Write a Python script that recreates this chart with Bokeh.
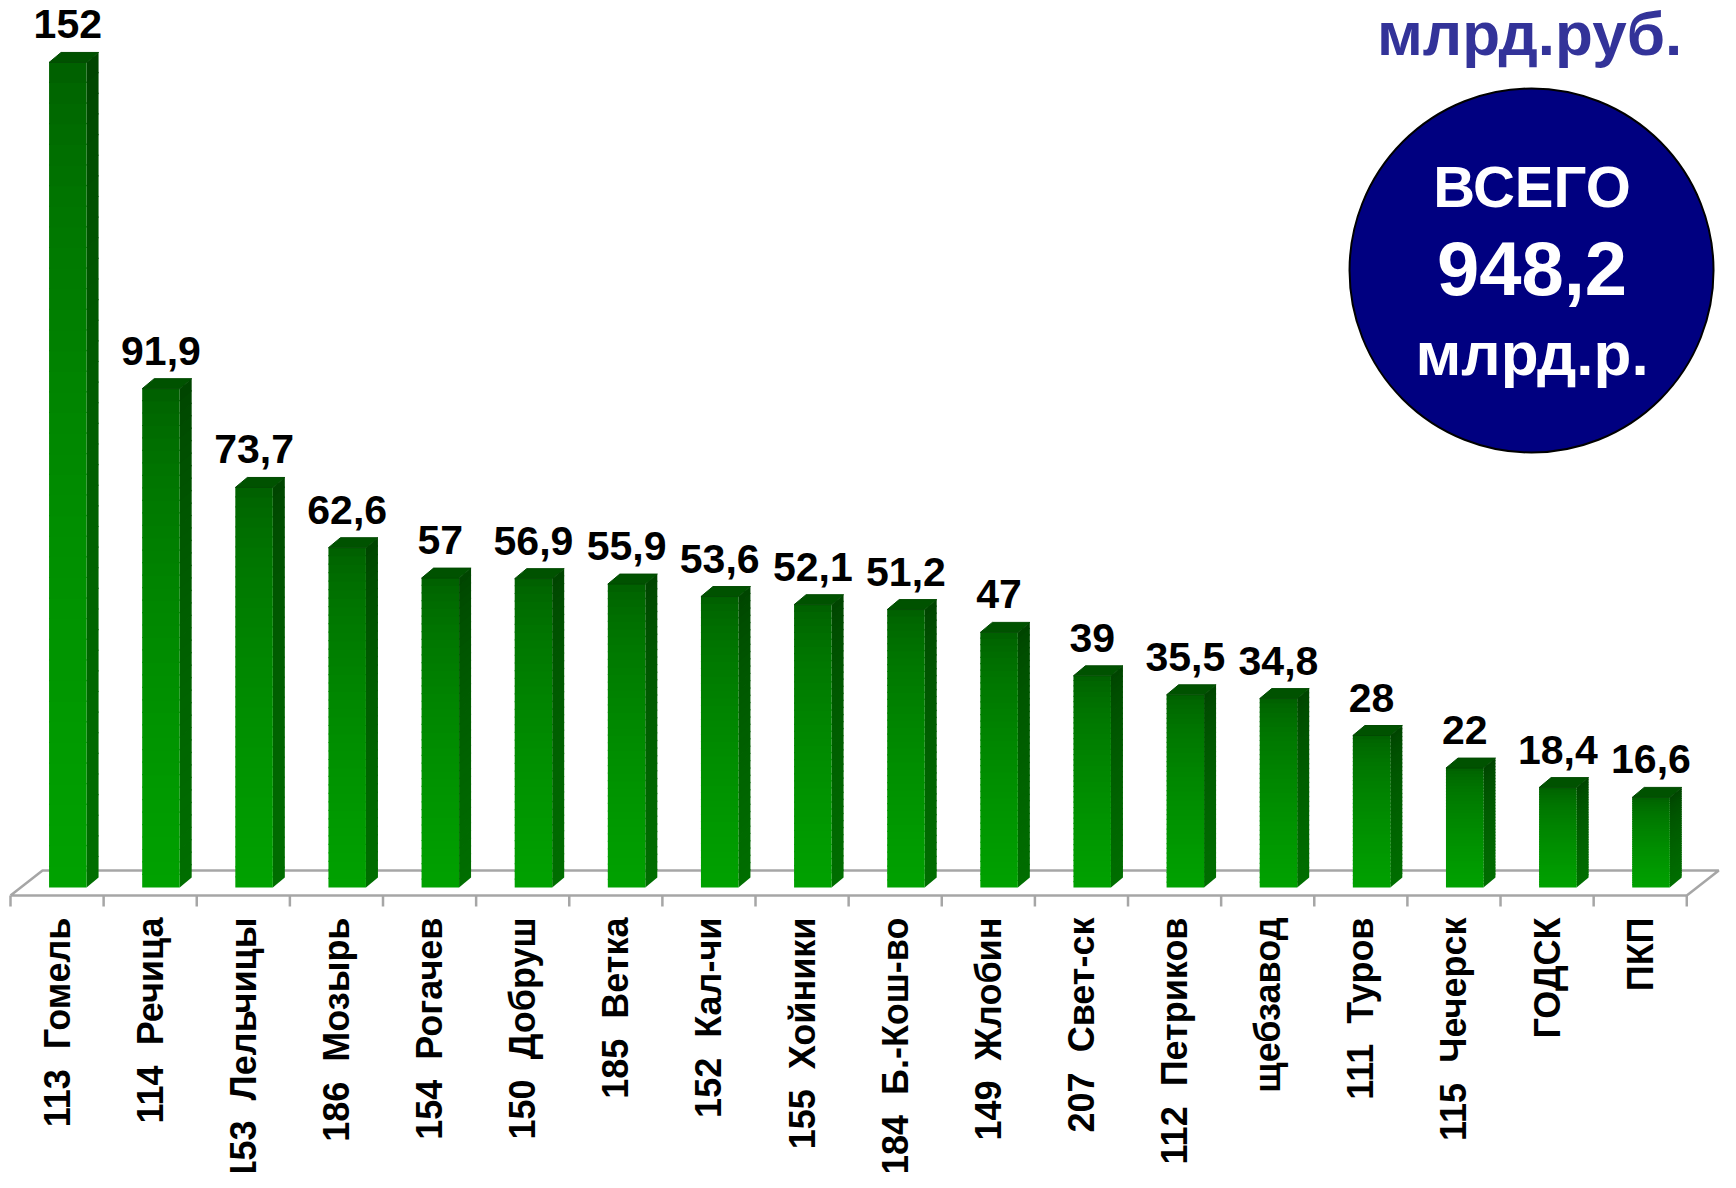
import numpy as np
from bokeh.plotting import figure
from bokeh.models import ColumnDataSource
from bokeh.core.properties import value
from bokeh.embed import file_html
from bokeh.resources import INLINE

# ---- data ----
categories = ["113  Гомель", "114  Речица", "153  Лельчицы", "186  Мозырь", "154  Рогачев",
              "150  Добруш", "185  Ветка", "152  Кал-чи", "155  Хойники", "184  Б.-Кош-во",
              "149  Жлобин", "207  Свет-ск", "112  Петриков", "щебзавод", "111  Туров",
              "115  Чечерск", "ГОДСК", "ПКП"]
values = [152, 91.9, 73.7, 62.6, 57, 56.9, 55.9, 53.6, 52.1, 51.2, 47, 39, 35.5, 34.8, 28, 22, 18.4, 16.6]
value_labels = ["152", "91,9", "73,7", "62,6", "57", "56,9", "55,9", "53,6", "52,1", "51,2",
                "47", "39", "35,5", "34,8", "28", "22", "18,4", "16,6"]
unit_text = "млрд.руб."
total_lines = ["ВСЕГО", "948,2", "млрд.р."]

# keep double spaces visible in SVG text
cat_text = [c.replace("  ", "\u00a0 ") for c in categories]

# ---- geometry ----
W, H = 1720, 1172
K = (1718 - 10) / (1732 - 10)   # slight horizontal squeeze so the right edge fits
PX_CAT = 93.89 * K
PX_VAL = 5.428
x_start = -0.5 - 10 / PX_CAT
x_end = x_start + W / PX_CAT
y_end = 887 / PX_VAL
y_start = y_end - H / PX_VAL

def sx(px):
    return x_start + (10 + (px - 10) * K) / PX_CAT

def sy(py):
    return y_end - py / PX_VAL

p = figure(width=W, height=H, x_range=(x_start, x_end), y_range=(y_start, y_end),
           output_backend="svg", toolbar_location=None, min_border=0,
           x_axis_location=None, y_axis_location=None)
p.grid.visible = False
p.outline_line_color = None
p.background_fill_color = "white"

n = len(values)
idx = np.arange(n)
vals = np.array(values, dtype=float)

L_OFF = -8.0 / PX_CAT
R_OFF = 29.5 / PX_CAT
DX = 12.0 / PX_CAT
DY = 10.0 / PX_VAL

# floor
FRONT_Y = -8.0 / PX_VAL
BACK_Y = 17.0 / PX_VAL
BACK_DX = 32.0 / PX_CAT
floor_col = "#a6a6a6"
p.line([-0.5, n - 0.5, n - 0.5 + BACK_DX, -0.5 + BACK_DX, -0.5],
       [FRONT_Y, FRONT_Y, BACK_Y, BACK_Y, FRONT_Y], line_color=floor_col, line_width=2.5)
tick_x = np.arange(n + 1) - 0.5
p.segment(x0=tick_x, y0=[FRONT_Y] * (n + 1), x1=tick_x, y1=[FRONT_Y - 11 / PX_VAL] * (n + 1),
          line_color=floor_col, line_width=2.5)

# gradient bars
NS = 40
OV = 1.2 / PX_VAL
def mix(c0, c1, t):
    return "#%02x%02x%02x" % tuple(int(round(a + (b - a) * t)) for a, b in zip(c0, c1))

front_top, front_bot = (0, 92, 0), (0, 162, 0)
side_top, side_bot = (0, 66, 0), (0, 110, 0)

fl, fr, fb, ft, fc = [], [], [], [], []
sxs, sys_, sc = [], [], []
for i, v in zip(idx, vals):
    edges = np.linspace(0, v, NS + 1)
    for k in range(NS):
        b, t = edges[k], edges[k + 1]
        tt = min(t + OV, v)
        frac = 1 - (b + t) / 2 / v
        g = frac ** 0.6
        fl.append(i + L_OFF); fr.append(i + R_OFF); fb.append(b); ft.append(tt)
        fc.append(mix(front_top, front_bot, g))
        xr = i + R_OFF
        sxs.append([xr, xr + DX, xr + DX, xr])
        sys_.append([b, b + DY, tt + DY, tt])
        sc.append(mix(side_top, side_bot, g))

p.patches(xs=sxs, ys=sys_, fill_color=sc, line_color=None)
p.quad(left=fl, right=fr, bottom=fb, top=ft, fill_color=fc, line_color=None)

top_xs = [[i + L_OFF, i + R_OFF, i + R_OFF + DX, i + L_OFF + DX] for i in idx]
top_ys = [[v, v, v + DY, v + DY] for v in vals]
p.patches(xs=top_xs, ys=top_ys, fill_color="#005200", line_color="#004a00", line_width=1)

# value labels: centre of digits ~38 px above the front top edge
LBL_GAP = 38.0 / PX_VAL
src = ColumnDataSource(dict(x=idx + (L_OFF + R_OFF) / 2, y=vals + LBL_GAP, t=value_labels))
p.text(x="x", y="y", text="t", source=src, text_align="center",
       text_baseline="middle", text_font=value("Liberation Sans"), text_font_style="bold",
       text_font_size="41px", text_color="black")

# category labels
csrc = ColumnDataSource(dict(x=idx.astype(float), y=[sy(917)] * n, t=cat_text))
p.text(x="x", y="y", text="t", source=csrc, angle=np.pi / 2, text_align="right",
       text_baseline="middle", text_font=value("Liberation Sans"), text_font_style="bold",
       text_font_size="36px", text_color="black")

FONT2 = "Liberation Sans"

p.text(x=[sx(1541.5)], y=[sy(33)], text=[unit_text], text_align="center", text_baseline="middle",
       text_font=value(FONT2), text_font_style="bold", text_font_size="62px",
       text_color="#333399")

p.circle(x=[sx(1543.5)], y=[sy(270)], radius=182, radius_units="screen",
         fill_color="#000080", line_color="black", line_width=2)
p.text(x=[sx(1544)] * 3, y=[sy(186), sy(268), sy(353)], text=total_lines,
       text_align="center", text_baseline="middle",
       text_font=value(FONT2), text_font_style="bold",
       text_font_size=["58px", "76px", "62px"], text_color="white")

open("out.html", "w").write(file_html(p, INLINE))
